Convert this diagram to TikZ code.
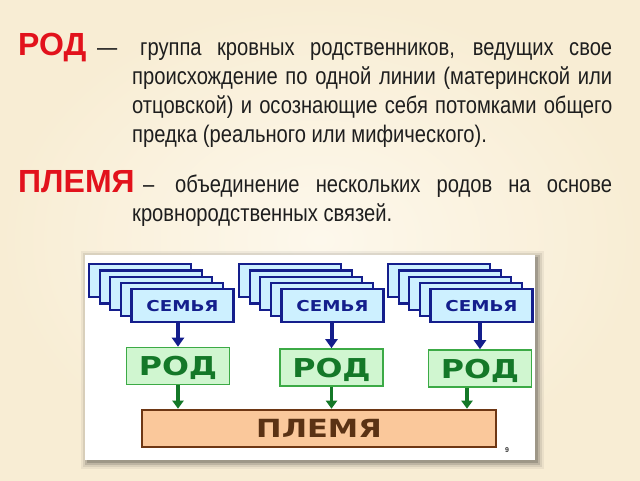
\documentclass[tikz,border=0pt]{standalone}
\usepackage{fontspec}
\setmainfont{Liberation Sans}[FakeStretch=0.84]
\newfontfamily\headfont{Liberation Sans Bold}
\newfontfamily\boxfont{DejaVu Sans Bold}[FakeStretch=1.22]
\usetikzlibrary{arrows.meta}
\usetikzlibrary{positioning}

\definecolor{bgcream}{RGB}{248,237,212}
\definecolor{bglight}{RGB}{253,248,236}
\definecolor{headred}{RGB}{226,18,28}
\definecolor{textgray}{RGB}{30,30,30}
\definecolor{famfill}{RGB}{205,240,255}
\definecolor{famblue}{RGB}{20,30,140}
\definecolor{rodfill}{RGB}{208,246,208}
\definecolor{rodline}{RGB}{60,170,70}
\definecolor{rodtext}{RGB}{20,120,40}
\definecolor{plfill}{RGB}{250,200,155}
\definecolor{plline}{RGB}{110,55,20}
\definecolor{pltext}{RGB}{90,50,20}

\begin{document}
\begin{tikzpicture}[x=1pt,y=-1pt,
      every node/.style={inner sep=0pt},
      headword/.style={anchor=base west,text=headred,font=\headfont\fontsize{32}{32}\selectfont},
      bodytext/.style={anchor=base west,text=textgray,font=\fontsize{24}{29}\selectfont},
      famcard/.style={draw=famblue,fill=famfill,line width=2.2pt,anchor=north west,
        minimum width=102pt,minimum height=33pt,text depth=0pt,text=famblue,
        font=\boxfont\fontsize{15}{15}\selectfont},
      rodbox/.style={draw=rodline,fill=rodfill,line width=1.6pt,minimum width=103pt,minimum height=37pt,
        text depth=0pt,text=rodtext,font=\boxfont\fontsize{26}{26}\selectfont},
      plbox/.style={draw=plline,fill=plfill,line width=2.6pt,minimum width=354pt,minimum height=37pt,
        text depth=0pt,text=pltext,font=\boxfont\fontsize{25}{25}\selectfont},
      famarrow/.style={draw=famblue,line width=4pt,-{Triangle[width=12pt,length=9pt]}},
      rodarrow/.style={draw=rodtext,line width=3.4pt,-{Triangle[width=11pt,length=8pt]}}]
  \useasboundingbox (0,0) rectangle (640,480);
  \shade[inner color=bglight,outer color=bgcream] (0,0) rectangle (640,480);

  % panel with soft shadow
  \foreach \s/\o in {7/0.05,5/0.08,3/0.12,1/0.16}
    \fill[black,opacity=\o] ({85-\s+3},{255-\s+3}) rectangle ({535+\s+2},{460+\s+2});
  \fill[white] (85,255) rectangle (535,460);

  \node[headword] (rodterm) at (18,55) {РОД};
  \node[bodytext] (roddash) at (97,55) {—};
  \node[bodytext,text width=480pt,align=justify] (roddef) at (132,55)
    {\hspace*{8pt}группа кровных родственников, ведущих свое\linebreak
     происхождение по одной линии (материнской или\linebreak
     отцовской) и осознающие себя потомками общего\linebreak
     предка (реального или мифического).};

  \node[headword] (plterm) at (18,192) {ПЛЕМЯ};
  \node[bodytext] (pldash) at (143,192) {–};
  \node[bodytext,text width=480pt,align=justify] (pldef) at (132,192)
    {\hspace*{43pt}объединение нескольких родов на основе\linebreak
     кровнородственных связей.};

  \foreach \gx/\g in {88/1,238/2,387/3} {
    \foreach \k in {0,...,3}
      \node[famcard] (fam\g-\k) at ({\gx+10.6*\k},{263+6.3*\k}) {};
    \node[famcard] (fam\g) at ({\gx+42.4},288) {СЕМЬЯ};
  }

  \node[rodbox] (rod1) at (178,366) {РОД};
  \node[rodbox] (rod2) at (331.5,367.5) {РОД};
  \node[rodbox] (rod3) at (480,368.5) {РОД};
  \node[plbox] (plemya) at (319,428.5) {ПЛЕМЯ};
  \node[text=black!80,font=\headfont\fontsize{7}{7}\selectfont] (slidenum) at (507,450) {9};

  \foreach \g in {1,2,3}
    \draw[famarrow] (rod\g.north |- fam\g.south) -- (rod\g.north);
  \draw[rodarrow] (rod1.south) -- (rod1.south |- plemya.north);
  \draw[rodarrow] (rod2.south) -- (rod2.south |- plemya.north);
  \draw[rodarrow] ([xshift=-13pt]rod3.south) -- ([xshift=-13pt]rod3.south |- plemya.north);
\end{tikzpicture}
\end{document}
